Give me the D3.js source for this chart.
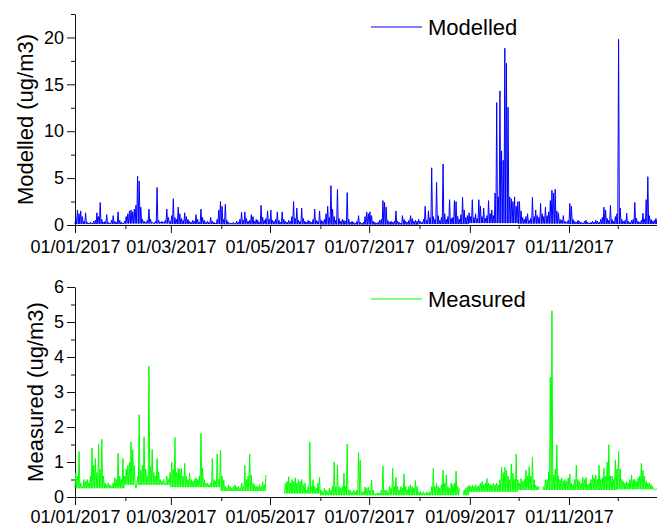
<!DOCTYPE html>
<meta charset="utf-8">
<title>Modelled vs measured 2017</title>
<style>
  body { margin: 0; background: #fff; }
  svg text { font-family: "Liberation Sans", Arial, sans-serif; fill: #000; }
</style>
<body>
<script src="https://cdn.jsdelivr.net/npm/d3@7"></script>
<script>

// daily peak values (ug/m3), one row per month of 2017
var modelledByMonth = [
  [0.8,1.6,1.2,1.5,0.9,0.4,1.3,0.3,0.2,0.3,0.2,0.4,0.5,1.3,0.9,2.4,0.6,0.3,0.4,1.1,0.3,0.2,0.5,1.0,0.4,0.3,1.4,0.5,0.3,0.2,0.4],
  [0.9,1.2,1.5,1.6,1.4,1.7,2.1,5.2,4.7,1.9,0.6,0.4,0.3,0.5,1.7,0.6,0.3,0.2,0.4,4.0,0.5,0.3,0.4,0.3,0.5,1.7,0.8,0.4],
  [1.0,2.8,0.8,0.6,1.9,1.2,0.7,0.5,1.3,0.9,0.6,0.4,0.3,0.5,0.4,1.1,0.6,0.3,1.7,0.8,0.5,0.3,0.4,0.3,0.8,0.4,0.3,0.2,0.6,1.6,2.5],
  [2.0,0.6,2.2,0.5,0.3,0.2,0.2,0.3,0.2,0.4,0.3,0.6,1.35,0.5,1.4,0.7,0.4,0.5,1.1,0.9,0.4,0.6,0.5,0.3,2.1,0.8,0.5,0.7,1.5,0.6],
  [1.6,0.5,0.4,0.6,1.4,0.5,0.3,1.4,0.6,0.4,0.3,0.5,0.4,0.9,2.5,0.7,1.8,0.5,0.4,1.8,0.7,0.4,0.3,0.5,0.4,0.3,0.6,1.7,0.5,0.4,1.5],
  [0.5,0.4,0.6,1.2,2.0,0.8,4.2,1.7,0.9,0.5,3.8,0.7,0.4,0.6,0.5,0.4,3.45,0.6,0.3,0.4,0.3,0.2,0.4,1.0,0.3,0.2,0.3,0.9,1.4,1.2],
  [1.4,1.0,0.4,0.3,0.2,0.3,0.5,0.6,2.6,2.4,1.9,0.5,0.3,0.4,0.3,0.4,1.5,0.4,0.3,0.2,1.0,0.6,0.4,0.3,0.5,1.0,0.7,0.4,0.5,0.4,0.6],
  [0.4,0.3,0.6,2.0,0.5,1.5,0.8,6.1,0.9,0.6,4.55,1.0,0.5,0.8,6.5,1.2,0.6,0.9,2.7,0.7,0.8,2.6,2.5,0.9,0.6,1.1,2.95,1.6,0.8,1.0,1.3],
  [0.9,2.7,0.8,1.2,0.7,2.7,2.0,0.9,1.8,0.7,1.0,2.6,1.2,1.6,1.0,3.4,13.05,3.0,14.3,7.9,6.9,18.85,17.25,12.55,3.0,2.8,2.5,3.0,2.0,2.5],
  [2.5,1.5,0.8,0.6,0.9,1.2,0.5,0.7,2.95,0.9,1.6,1.0,0.8,2.3,1.2,0.9,1.9,1.0,1.4,2.6,3.7,3.4,3.8,1.5,1.3,0.6,0.5,1.0,0.4,0.3,0.5],
  [2.3,2.0,0.6,0.4,0.3,0.5,0.4,0.3,0.2,0.4,0.5,0.3,0.2,0.3,0.4,0.3,0.5,0.4,0.3,0.6,0.8,1.9,1.6,0.7,0.5,2.1,0.6,0.4,0.9,1.2],
  [19.8,1.8,0.6,0.4,0.5,1.25,0.4,0.3,0.5,0.6,2.4,0.7,0.4,0.3,0.5,1.25,0.6,2.7,5.15,1.0,0.6,0.4,0.5,0.7,0.5,0.4,0.6,0.5,0.4,0.5,0.6]
];
// typical low level between peaks, per month
var modelledBase = [0.1,0.15,0.1,0.08,0.08,0.05,0.05,0.1,0.2,0.15,0.1,0.1];

// null = no measurement
var measuredByMonth = [
  [0.68,0.6,1.3,0.4,0.3,0.5,0.45,0.5,0.4,0.6,1.4,0.9,1.1,0.7,1.5,0.8,1.65,0.6,0.4,0.35,0.4,0.35,0.3,0.4,0.55,0.5,1.25,0.6,0.5,1.1,0.6],
  [0.8,0.9,1.0,1.58,1.35,0.9,0.25,0.6,2.35,0.77,0.9,1.72,0.8,0.6,3.74,0.87,1.36,0.7,0.6,1.1,0.72,0.5,0.45,0.5,0.4,0.6,0.5,0.7],
  [1.0,0.8,1.7,0.7,0.82,0.8,0.82,0.6,0.96,0.6,0.5,0.68,0.5,0.45,0.5,0.55,0.5,0.6,1.82,0.82,0.5,0.4,0.39,0.35,0.4,1.1,0.5,0.45,1.23,0.5,1.34],
  [0.6,0.49,0.3,0.25,0.35,0.3,0.25,0.3,0.35,0.28,0.3,0.25,0.4,0.3,0.9,0.5,0.6,1.23,0.63,0.4,0.35,0.3,0.3,0.35,0.3,0.44,0.35,0.63,null,null],
  [null,null,null,null,null,null,null,null,null,0.4,0.45,0.58,0.4,0.5,0.45,0.55,0.4,0.5,0.45,0.5,0.35,0.4,0.2,0.3,1.57,0.3,0.49,0.3,0.25,0.4,0.56],
  [0.2,0.15,0.25,0.2,0.15,0.25,0.2,0.3,1.0,0.3,0.9,0.3,0.25,0.3,0.68,0.3,1.51,0.2,0.2,0.15,0.2,0.15,0.2,1.27,1.05,0.15,0.15,0.28,0.25,0.28],
  [0.2,0.49,0.2,0.1,0.1,0.12,0.1,0.2,0.89,0.2,0.2,0.15,0.3,0.25,0.82,0.3,0.56,0.3,0.2,0.3,0.25,0.66,0.3,0.2,0.3,0.35,0.3,0.25,0.47,0.3,0.15],
  [0.15,0.12,0.15,0.1,0.15,0.12,0.15,0.3,0.82,0.3,0.39,0.3,0.25,0.35,0.77,0.4,0.63,0.3,0.25,0.4,0.35,0.4,0.74,0.3,0.25,null,null,0.2,0.25,0.3,0.34],
  [0.3,0.34,0.3,0.35,0.3,0.34,0.4,0.44,0.35,0.4,0.53,0.4,0.35,0.34,0.4,0.35,0.4,0.34,0.5,0.85,0.7,0.85,0.77,0.6,0.5,0.94,0.68,0.5,1.23,0.49],
  [0.4,0.53,0.45,0.5,0.77,0.6,0.87,0.6,1.13,0.5,0.34,0.3,0.3,null,null,0.3,0.49,0.5,0.72,3.42,5.32,0.63,0.8,1.49,0.6,0.5,0.55,0.45,0.5,0.45,0.55],
  [0.66,0.4,0.35,0.5,0.91,0.5,0.45,0.4,0.56,0.5,0.56,0.35,0.4,0.5,0.63,0.55,0.63,0.5,0.91,0.5,0.55,0.82,0.6,1.0,1.49,0.6,0.6,0.5,1.06,0.8],
  [1.3,0.8,0.5,0.44,0.4,0.44,0.4,0.5,0.63,0.5,0.5,0.45,0.55,0.6,0.96,0.77,0.6,0.45,0.4,0.41,0.35,0.3,0.22,0.22,0.25,0.3,0.3,0.3,0.3,0.3,0.3]
];
var measuredBase = [0.25,0.35,0.28,0.17,0.1,0.05,0.05,0.05,0.15,0.2,0.2,0.22];

var width = 657, height = 527;
var start = Date.UTC(2017, 0, 1), dayMs = 864e5;

var svg = d3.select("body").append("svg")
    .attr("width", width)
    .attr("height", height);

var x = d3.scaleUtc()
    .domain([new Date(start), new Date(Date.UTC(2018, 0, 1))])
    .range([75, 75 + 365 * 1.625]);

// each day: drop to the month's low level, then up to that day's peak
function series(byMonth, base) {
  var pts = [], day = 0;
  byMonth.forEach(function(month, m) {
    month.forEach(function(v) {
      pts.push({t: new Date(start + day * dayMs), v: v == null ? null : base[m]});
      pts.push({t: new Date(start + (day + 0.5) * dayMs), v: v});
      day++;
    });
  });
  return pts;
}

function panel(cfg) {
  var y = d3.scaleLinear().domain([0, cfg.yMax]).range([cfg.y0, cfg.y1]);
  var g = svg.append("g");

  var isMajor = function(d) { return Math.abs(d / cfg.major - Math.round(d / cfg.major)) < 1e-6; };

  // y axis
  var ya = g.append("g").attr("transform", "translate(75,0)")
    .call(d3.axisLeft(y)
      .tickValues(d3.range(0, cfg.yMax + 1e-9, cfg.minor))
      .tickSize(8).tickSizeOuter(0).tickPadding(3)
      .tickFormat(function(d) { return isMajor(d) ? d3.format("d")(d) : ""; }));
  ya.selectAll(".tick").filter(function(d) { return !isMajor(d); })
    .select("line").attr("x2", -4);

  // x axis: month ticks, label every other month
  var months = d3.utcMonth.range(new Date(start), new Date(Date.UTC(2017, 11, 2)));
  var xa = g.append("g").attr("transform", "translate(0," + cfg.y0 + ")")
    .call(d3.axisBottom(x)
      .tickValues(months)
      .tickSize(8).tickSizeOuter(0).tickPadding(cfg.xPad)
      .tickFormat(function(d) { return d.getUTCMonth() % 2 === 0 ? d3.utcFormat("%d/%m/%Y")(d) : ""; }));
  xa.selectAll(".tick").filter(function(d) { return d.getUTCMonth() % 2 === 1; })
    .select("line").attr("y2", 4);

  g.selectAll(".domain, .tick line").attr("stroke", "#111");
  g.selectAll(".tick text").style("font-size", "18px").attr("fill", "#000");

  // data
  var line = d3.line()
    .defined(function(d) { return d.v != null; })
    .x(function(d) { return x(d.t); })
    .y(function(d) { return y(d.v); });

  g.append("path")
    .datum(series(cfg.byMonth, cfg.base))
    .attr("fill", "none")
    .attr("stroke", cfg.color)
    .attr("stroke-width", 1)
    .attr("d", line);

  // axis title
  g.append("text")
    .attr("transform", "translate(" + cfg.titleX + "," + ((cfg.y0 + cfg.y1) / 2) + ") rotate(-90)")
    .attr("text-anchor", "middle")
    .attr("dy", "0.35em")
    .style("font-size", "22px")
    .text(cfg.title);

  // legend
  g.append("line")
    .attr("x1", 371).attr("x2", 422)
    .attr("y1", cfg.legendY).attr("y2", cfg.legendY)
    .attr("stroke", cfg.color);
  g.append("text")
    .attr("x", 428).attr("y", cfg.legendY + 8)
    .style("font-size", "22px")
    .text(cfg.name);
}

panel({
  byMonth: modelledByMonth, base: modelledBase, color: "#0000ff",
  yMax: 22.5, major: 5, minor: 2.5, y0: 225, y1: 14, xPad: 7,
  title: "Modelled (ug/m3)", titleX: 25, name: "Modelled", legendY: 27
});

panel({
  byMonth: measuredByMonth, base: measuredBase, color: "#00ff00",
  yMax: 6, major: 1, minor: 0.5, y0: 497, y1: 287, xPad: 5,
  title: "Measured (ug/m3)", titleX: 35, name: "Measured", legendY: 299
});

</script>
